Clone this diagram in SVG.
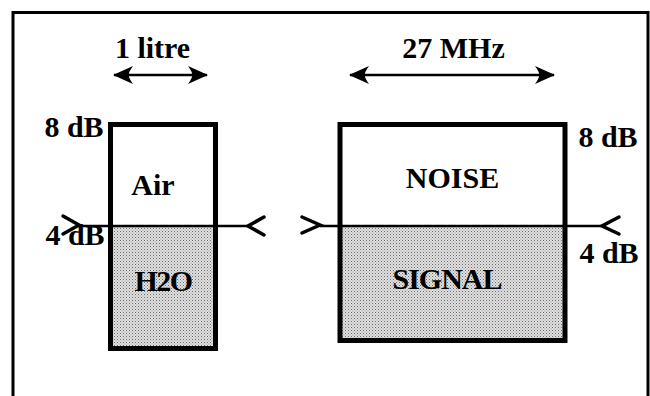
<svg xmlns="http://www.w3.org/2000/svg" width="650" height="396" viewBox="0 0 650 396">
<defs>
<pattern id="stip" width="3" height="3" patternUnits="userSpaceOnUse">
<rect width="3" height="3" fill="#e0e0e0"/>
<rect x="0" y="0" width="1" height="1" fill="#6a6a6a"/>
<rect x="1.5" y="1.5" width="1" height="1" fill="#909090"/>
</pattern>
<marker id="ah" viewBox="-22 -11 24 22" refX="0" refY="0" markerWidth="24" markerHeight="22" markerUnits="userSpaceOnUse" orient="auto-start-reverse">
<path d="M1,0 L-19,-9 Q-14,-2 -15,0 Q-14,2 -19,9 Z" fill="#000"/>
</marker>
<style>
.t{font-family:"Liberation Serif","Times New Roman",serif;font-weight:bold;font-size:30px;fill:#000;text-anchor:middle}
.box{stroke:#000;stroke-width:5}
.ln{stroke:#000;stroke-width:2.5;fill:none}
.chev{stroke:#000;stroke-width:3.5;fill:none;stroke-linecap:round;stroke-linejoin:miter}
</style>
</defs>
<rect width="650" height="396" fill="#fff"/>
<path d="M13,396 V12.5 H648 V396" fill="none" stroke="#000" stroke-width="3"/>

<g id="left-box">
<rect x="110.5" y="226" width="105" height="122.5" fill="url(#stip)"/>
<rect class="box" x="110.5" y="124.5" width="105" height="224" fill="none"/>
<text class="t" x="153" y="195">Air</text>
<text class="t" x="163" y="291" letter-spacing="-1.5">H2O</text>
</g>

<g id="right-box">
<rect x="340" y="226" width="225" height="114.5" fill="url(#stip)"/>
<rect class="box" x="340" y="124.5" width="225" height="216" fill="none"/>
<text class="t" x="452.5" y="188">NOISE</text>
<text class="t" x="447" y="289" letter-spacing="-1">SIGNAL</text>
</g>

<g id="labels">
<text class="t" x="152.5" y="58">1 litre</text>
<text class="t" x="453.5" y="58">27 MHz</text>
<text class="t" x="74" y="137">8 dB</text>
<text class="t" x="75" y="245">4 dB</text>
<text class="t" x="608" y="147">8 dB</text>
<text class="t" x="609" y="263">4 dB</text>
</g>

<g id="connectors">
<line class="ln" x1="114" y1="75" x2="207" y2="75" stroke-width="3" marker-start="url(#ah)" marker-end="url(#ah)"/>
<line class="ln" x1="350" y1="75" x2="554" y2="75" stroke-width="3" marker-start="url(#ah)" marker-end="url(#ah)"/>
<line class="ln" x1="78" y1="226" x2="249" y2="226"/>
<polyline class="chev" points="63,216 79,225 63,234"/>
<polyline class="chev" points="264,217 248,226 264,235"/>
<line class="ln" x1="320" y1="226" x2="601" y2="226"/>
<polyline class="chev" points="302,217 320,225 302,233"/>
<polyline class="chev" points="619,217 602,226 619,234"/>
</g>
</svg>
